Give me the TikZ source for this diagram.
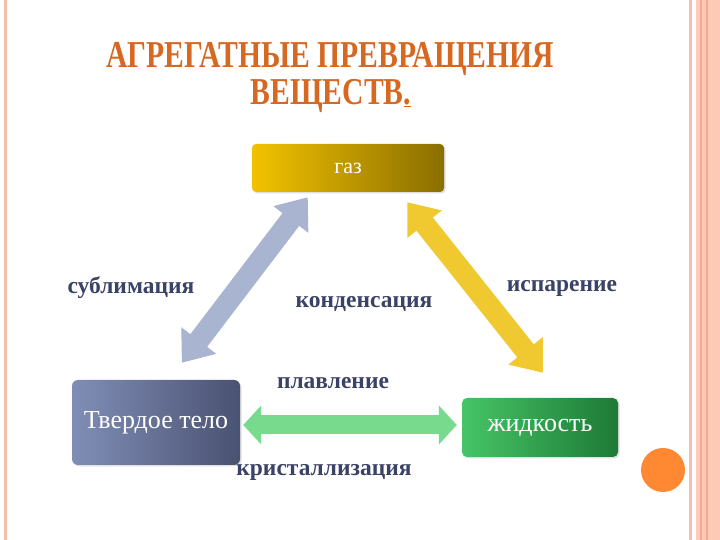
\documentclass[tikz,border=0pt]{standalone}
\usepackage{fontspec}
\setmainfont{Liberation Serif}
\newfontfamily\titlefont[FakeStretch=0.78]{Liberation Serif}
\usetikzlibrary{arrows.meta,shadows}

\definecolor{titleorange}{RGB}{214,104,34}
\definecolor{labelslate}{RGB}{58,66,102}
\definecolor{borderpink}{RGB}{246,190,172}
\definecolor{bandpink}{RGB}{253,202,182}
\definecolor{banddark}{RGB}{244,170,146}
\definecolor{dotorange}{RGB}{255,136,51}
\definecolor{gasleft}{RGB}{242,194,0}
\definecolor{gasright}{RGB}{138,110,0}
\definecolor{solidleft}{RGB}{128,142,182}
\definecolor{solidright}{RGB}{74,82,114}
\definecolor{liquidleft}{RGB}{70,196,102}
\definecolor{liquidright}{RGB}{30,122,54}
\definecolor{sublimblue}{RGB}{168,180,208}
\definecolor{evaporyellow}{RGB}{240,200,48}
\definecolor{meltgreen}{RGB}{120,218,140}

\tikzset{
  statebox/.style={rounded corners=5pt, minimum height=#1, text=white,
    font=\fontsize{26}{30}\selectfont, inner sep=0pt, drop shadow={opacity=0.25, shadow xshift=1.5pt, shadow yshift=-1.5pt}},
  procname/.style={text=labelslate, font=\fontsize{23.5}{27}\selectfont\bfseries, inner sep=0pt},
  bigarrow/.style={draw=#1, line width=21pt,
    {Triangle[length=28pt,width=42pt]}-{Triangle[length=28pt,width=42pt]}},
}

\begin{document}
\begin{tikzpicture}[x=1pt, y=1pt]
    \useasboundingbox (0,0) rectangle (720,540) ;
    \fill[white] (0,0) rectangle (720,540) ;
    \draw[borderpink, line width=3pt] (5,0) -- (5,540) ;
    \draw[borderpink, line width=3pt] (690.5,0) -- (690.5,540) ;
    \fill[bandpink] (696,0) rectangle (720,540) ;
    \foreach \x in {701, 707}
    \draw[banddark, line width=1.2pt] (\x,0) -- (\x,540) ;
    \fill[dotorange] (663,70) circle (22) ;

    \node[text=titleorange, font=\titlefont\bfseries\fontsize{38}{40}\selectfont] (title1) at (330,481) {АГРЕГАТНЫЕ ПРЕВРАЩЕНИЯ} ;
    \node[text=titleorange, font=\titlefont\bfseries\fontsize{38}{40}\selectfont] (title2) at (331,444) {ВЕЩЕСТВ\underline{.}} ;

    \node[statebox=48pt, minimum width=192pt, rounded corners=4pt, left color=gasleft, right color=gasright, font=\fontsize{22}{26}\selectfont] (gas) at (348,372) {газ} ;
    \node[statebox=85pt, minimum width=168pt, rounded corners=6pt, left color=solidleft, right color=solidright] (solid) at (156,117.5) {Твердое тело} ;
    \node[statebox=59pt, minimum width=156pt, left color=liquidleft, right color=liquidright] (liquid) at (540,112.5) {жидкость} ;

    \draw[bigarrow=sublimblue] ([shift={(56,-5)}]gas.south west) -- ([shift={(110,17)}]solid.north west) ;
    \draw[bigarrow=evaporyellow] ([shift={(-37,-10)}]gas.south east) -- ([shift={(3,25)}]liquid.north) ;
    \draw[bigarrow=meltgreen, line width=19pt, {Triangle[length=18pt,width=38pt]}-{Triangle[length=18pt,width=38pt]}] ([xshift=3pt]solid.east |- 0,115) -- ([xshift=-5pt]liquid.west |- 0,115) ;

    \node[procname] (sublim) at (131,252) {сублимация} ;
    \node[procname] (conden) at (364,236) {конденсация} ;
    \node[procname] (evapor) at (562,252) {испарение} ;
    \node[procname] (melt) at (333,157) {плавление} ;
    \node[procname] (cryst) at (324,68) {кристаллизация} ;
  \end{tikzpicture}
\end{document}
